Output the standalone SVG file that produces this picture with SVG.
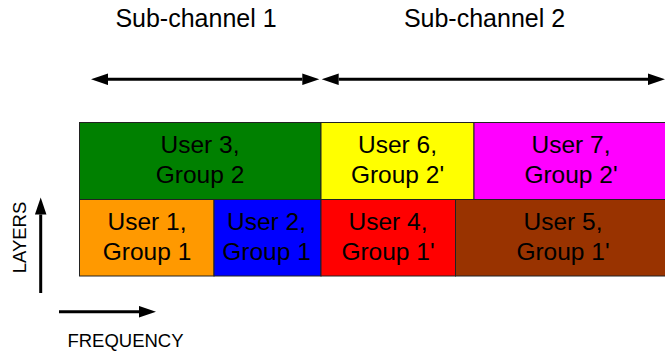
<svg xmlns="http://www.w3.org/2000/svg" width="665" height="354" viewBox="0 0 665 354">
  <style>
    .blk { stroke: #222; stroke-width: 1; }
    .lbl { font-family: "Liberation Sans", Arial, sans-serif; font-size: 24.5px; fill: #000; text-anchor: middle; }
    .head { font-family: "Liberation Sans", Arial, sans-serif; font-size: 25px; fill: #000; text-anchor: middle; }
    .axis { font-family: "Liberation Sans", Arial, sans-serif; font-size: 18.5px; fill: #000; text-anchor: middle; }
    .shaft { stroke: #000; stroke-width: 3; fill: none; }
  </style>
  <defs>
    <marker id="tip" markerUnits="userSpaceOnUse" markerWidth="18" markerHeight="12" refX="0" refY="6" orient="auto-start-reverse">
      <path d="M0,0.25 L17,6 L0,11.75 Z" fill="#000"/>
    </marker>
  </defs>
  <rect width="665" height="354" fill="#fff"/>

  <!-- sub-channel headings -->
  <text class="head" x="196" y="27">Sub-channel 1</text>
  <text class="head" x="484.5" y="27">Sub-channel 2</text>

  <!-- resource blocks -->
  <g id="user3">
    <rect class="blk" x="79.5" y="122.5" width="241.5" height="77" fill="#008000"/>
    <text class="lbl" x="200" y="152.5">User 3,</text>
    <text class="lbl" x="200" y="182.5">Group 2</text>
  </g>
  <g id="user6">
    <rect class="blk" x="321" y="122.5" width="153" height="77" fill="#FFFF00"/>
    <text class="lbl" x="397.5" y="152.5">User 6,</text>
    <text class="lbl" x="397.5" y="182.5">Group 2'</text>
  </g>
  <g id="user7">
    <rect class="blk" x="474" y="122.5" width="196" height="77" fill="#FF00FF"/>
    <text class="lbl" x="571" y="152.5">User 7,</text>
    <text class="lbl" x="571" y="182.5">Group 2'</text>
  </g>
  <g id="user1">
    <rect class="blk" x="79.5" y="199.5" width="134.5" height="76.5" fill="#FF9900"/>
    <text class="lbl" x="147" y="229.5">User 1,</text>
    <text class="lbl" x="147" y="260">Group 1</text>
  </g>
  <g id="user2">
    <rect class="blk" x="214" y="199.5" width="107" height="76.5" fill="#0000FF"/>
    <text class="lbl" x="266.5" y="229.5">User 2,</text>
    <text class="lbl" x="266.5" y="260">Group 1</text>
  </g>
  <g id="user4">
    <rect class="blk" x="321" y="199.5" width="134.5" height="76.5" fill="#FF0000"/>
    <text class="lbl" x="388" y="229.5">User 4,</text>
    <text class="lbl" x="388" y="260">Group 1'</text>
  </g>
  <g id="user5">
    <rect class="blk" x="455.5" y="199.5" width="215" height="76.5" fill="#993300"/>
    <text class="lbl" x="563" y="229.5">User 5,</text>
    <text class="lbl" x="563" y="260">Group 1'</text>
  </g>

  <!-- arrows -->
  <g id="connectors">
    <line class="shaft" x1="108" y1="79.3" x2="302.3" y2="79.3" marker-start="url(#tip)" marker-end="url(#tip)"/>
    <line class="shaft" x1="338.7" y1="79.3" x2="648" y2="79.3" marker-start="url(#tip)" marker-end="url(#tip)"/>
    <line class="shaft" x1="40.7" y1="293" x2="40.7" y2="214.5" marker-end="url(#tip)"/>
    <line class="shaft" x1="59" y1="311.7" x2="139" y2="311.7" marker-end="url(#tip)"/>
  </g>

  <!-- axis captions -->
  <text class="axis" x="125.5" y="347">FREQUENCY</text>
  <text class="axis" transform="translate(26.2 237.5) rotate(-90)" x="0" y="0">LAYERS</text>
</svg>
